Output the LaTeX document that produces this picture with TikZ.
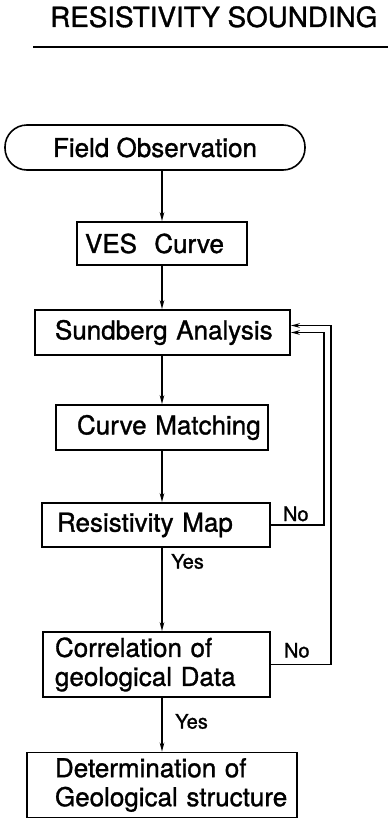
\documentclass[tikz,border=0pt]{standalone}
\usepackage{fontspec}
\setmainfont[FakeBold=1.2]{TeX Gyre Heros}
\usetikzlibrary{arrows.meta}
\tikzset{
    stepbox/.style={draw,line width=1.6pt,align=left,inner ysep=0pt,font=\fontsize{26}{29}\selectfont},
    yesno/.style={inner sep=0pt,font=\fontsize{20}{22}\selectfont},
    flow/.style={line width=1.6pt,-{Stealth[length=9pt,width=4.5pt]}}
}
\begin{document}
\begin{tikzpicture}[x=1pt,y=-1pt]
    \useasboundingbox (0,0) rectangle (388,819);
    \node[anchor=base west,inner sep=0pt,font=\fontsize{27.8}{30}\selectfont] (title) at (50,27) {RESISTIVITY SOUNDING};
    \draw[line width=1.6pt] (33,47) -- (388,47);

    \node[stepbox,align=center,rounded corners=22pt,minimum width=300pt,minimum height=45pt] (field) at (155,147.5) {Field Observation};
    \node[stepbox,text width=154pt,inner xsep=8pt,minimum height=43pt] (ves) at (162,243.5) {\mbox{VES\ \ Curve}};
    \node[stepbox,text width=215pt,inner xsep=20pt,minimum height=45pt] (sund) at (162.5,332.5) {\mbox{Sundberg Analysis}};
    \node[stepbox,text width=170pt,inner xsep=21pt,minimum height=45pt] (match) at (162,427.5) {\mbox{Curve Matching}};
    \node[stepbox,text width=198pt,inner xsep=15pt,minimum height=44pt] (resmap) at (156,525) {\mbox{Resistivity Map}};
    \node[stepbox,text width=203pt,inner xsep=12pt,minimum height=65pt] (corr) at (156.5,664.5) {\mbox{Correlation of}\\\mbox{geological Data}};
    \node[stepbox,text width=214pt,inner xsep=28pt,minimum height=65pt] (det) at (162,785) {\mbox{Determination of}\\\mbox{Geological structure}};

    \coordinate (spine) at (162,0);
    \coordinate (loopin) at (324,0);
    \coordinate (loopout) at (331,0);
    \coordinate (upper) at ([yshift=7pt]sund.east);

    \draw[flow] (spine |- field.south) -- (spine |- ves.north);
    \draw[flow] (spine |- ves.south) -- (spine |- sund.north);
    \draw[flow] (spine |- sund.south) -- (spine |- match.north);
    \draw[flow] (spine |- match.south) -- (spine |- resmap.north);
    \draw[flow] (spine |- resmap.south) -- (spine |- corr.north);
    \draw[flow] (spine |- corr.south) -- (spine |- det.north);
    \draw[flow] (resmap.east) -| (loopin |- sund.east) -- (sund.east);
    \draw[flow] (corr.east) -| (loopout |- upper) -- (upper);

    \node[yesno,anchor=north west] (yes1) at ([xshift=9pt,yshift=-6pt]spine |- resmap.south) {Yes};
    \node[yesno,anchor=north west] (yes2) at ([xshift=13pt,yshift=-16pt]spine |- corr.south) {Yes};
    \node[yesno,anchor=base west] (no1) at ([xshift=12pt,yshift=4pt]resmap.east) {No};
    \node[yesno,anchor=base west] (no2) at ([xshift=13pt,yshift=7pt]corr.east) {No};
\end{tikzpicture}
\end{document}
